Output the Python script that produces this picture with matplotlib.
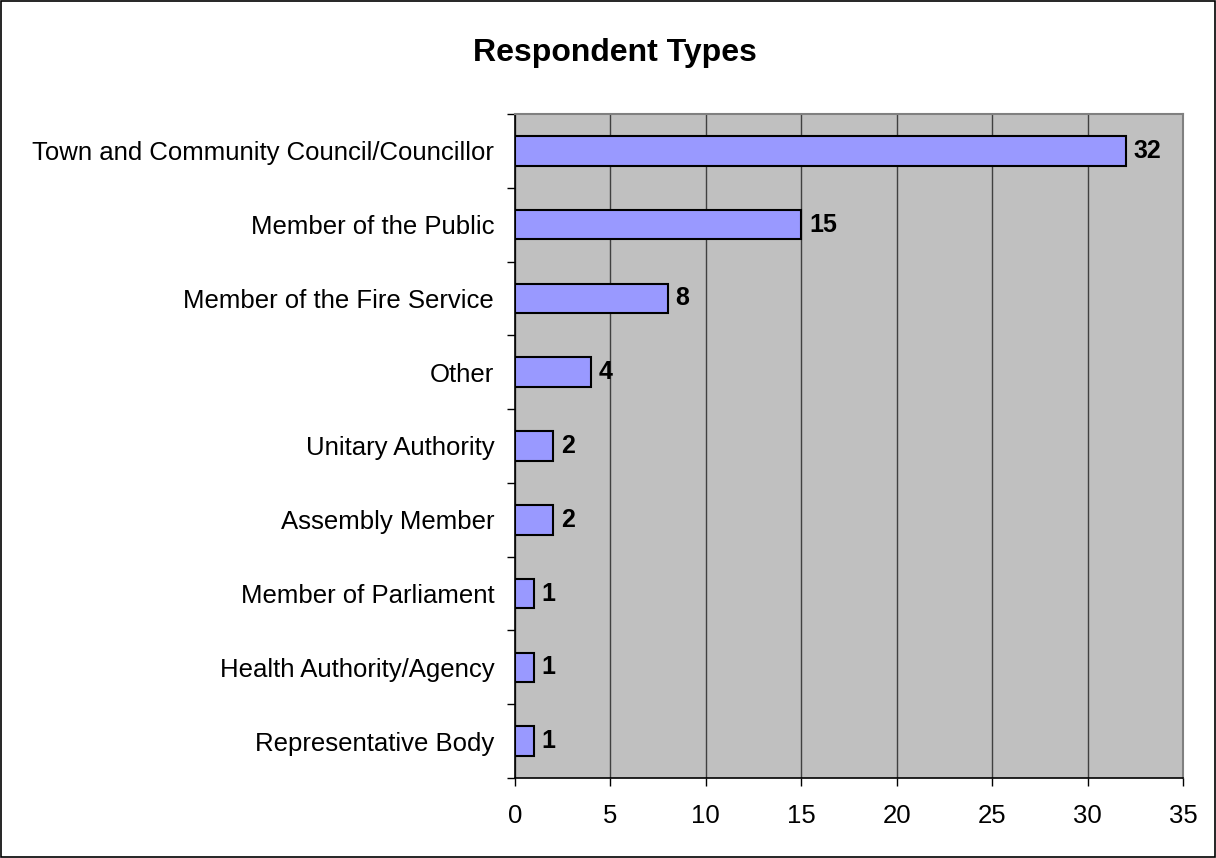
import matplotlib.pyplot as plt
import matplotlib.patches as patches
from matplotlib.ticker import FixedLocator

categories = [
    "Town and Community Council/Councillor",
    "Member of the Public",
    "Member of the Fire Service",
    "Other",
    "Unitary Authority",
    "Assembly Member",
    "Member of Parliament",
    "Health Authority/Agency",
    "Representative Body",
]
counts = [32, 15, 8, 4, 2, 2, 1, 1, 1]
x_ticks = [0, 5, 10, 15, 20, 25, 30, 35]

plt.rcParams['font.family'] = ['Liberation Sans', 'DejaVu Sans']

dpi = 100
fig = plt.figure(figsize=(12.16, 8.58), dpi=dpi)
fig.patch.set_facecolor('white')
ax = fig.add_axes([515 / 1216, 1 - 778 / 858, (1183 - 515) / 1216, (778 - 114) / 858])
ax.set_facecolor('#C0C0C0')

n = len(categories)
ypos = list(range(n))
ax.barh(ypos, counts, height=0.4, color='#9999FF', edgecolor='black',
        linewidth=1.5, zorder=3)
for y, v in zip(ypos, counts):
    ax.annotate(str(v), (v, y), xytext=(5.5, 0), textcoords='offset points',
                ha='left', va='center', fontsize=18, fontweight='bold', zorder=4)

ax.set_xlim(0, 35)
ax.set_ylim(n - 0.5, -0.5)
ax.set_xticks(x_ticks)
ax.set_yticks(ypos)
ax.set_yticklabels(categories)
ax.yaxis.set_minor_locator(FixedLocator([i - 0.5 for i in range(n + 1)]))
ax.tick_params(axis='y', which='major', length=0, pad=15, labelsize=18.5)
ax.tick_params(axis='y', which='minor', length=6, width=1, direction='out')
ax.tick_params(axis='x', which='major', length=6, width=1, direction='out',
               pad=13, labelsize=18.5)
ax.grid(axis='x', color='#404040', linewidth=1, zorder=1)
ax.set_axisbelow(True)

for side in ['left', 'bottom']:
    ax.spines[side].set_color('black')
    ax.spines[side].set_linewidth(1.2)
for side in ['top', 'right']:
    ax.spines[side].set_color('#808080')
    ax.spines[side].set_linewidth(1.5)

fig.text(615 / 1216, 1 - 53 / 858, "Respondent Types", ha='center', va='center',
         fontsize=23, fontweight='bold')

border = patches.Rectangle((0.0005, 0.0008), 0.999, 0.9985, transform=fig.transFigure,
                           fill=False, edgecolor='black', linewidth=1.2)
fig.patches.append(border)

fig.savefig('out.png', dpi=dpi, facecolor='white')
